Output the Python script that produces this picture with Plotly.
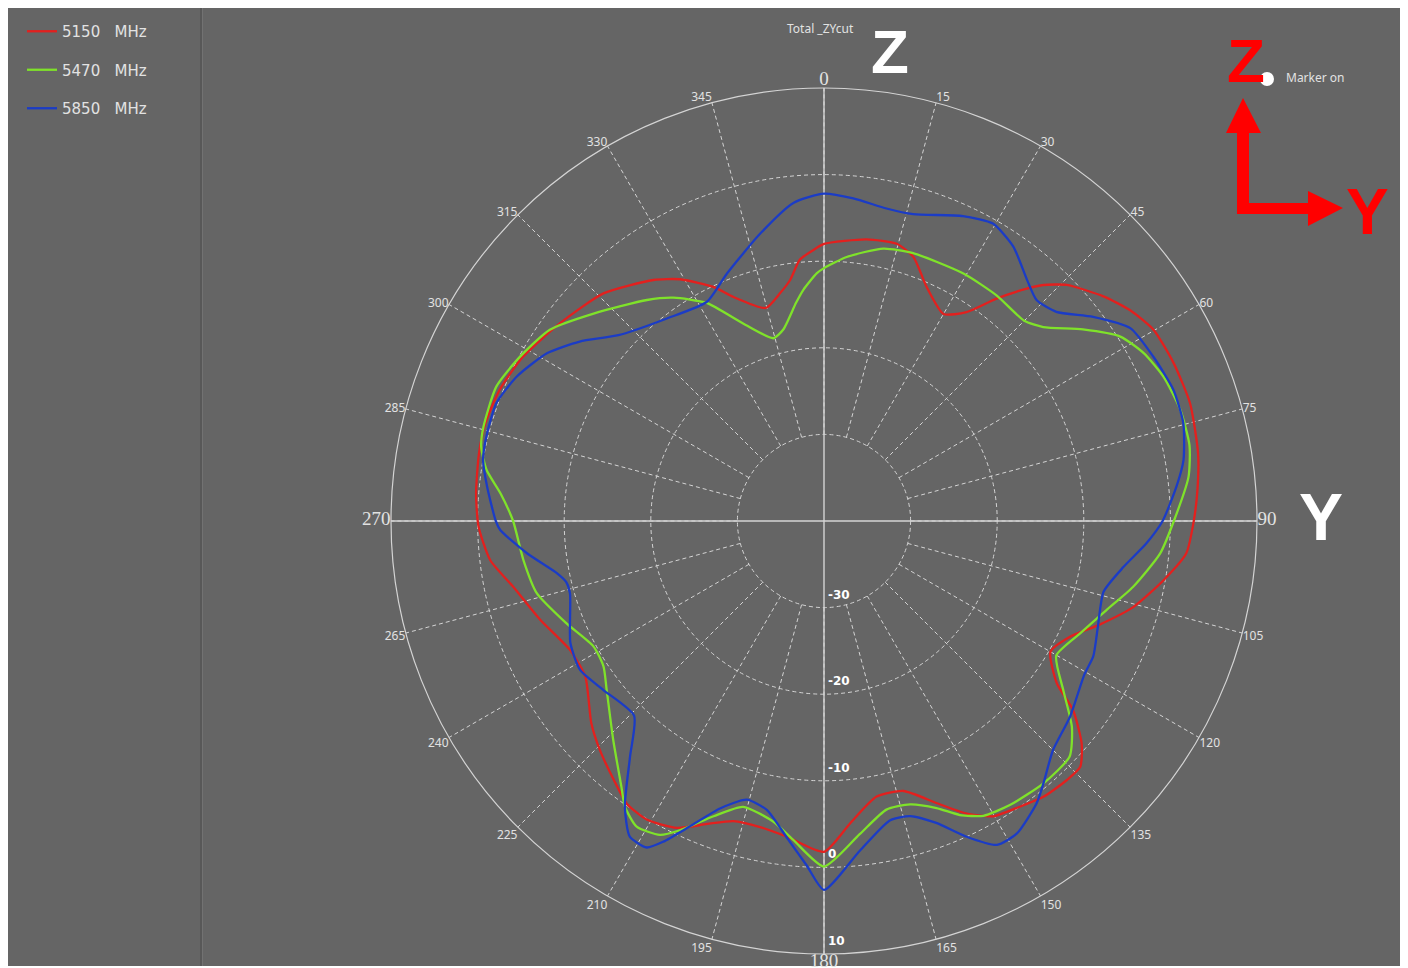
import plotly.graph_objects as go

# page is drawn with an 8 px body margin, so the figure is 1400x960 and offset by 8 px
W, H = 1400, 960
OX, OY = 8, 8

# ---------------- data ----------------
series_names = ["5150\u00a0\u00a0\u00a0MHz", "5470\u00a0\u00a0\u00a0MHz", "5850\u00a0\u00a0\u00a0MHz"]
series_colors = ["#e3201e", "#7fe22a", "#1b3cc6"]

theta_5150 = [0, 8.6, 14.7, 18.7, 23.7, 30.0, 34.3, 37.8, 41.1, 42.9, 45.8, 51.2, 55.4, 59.9,
              65.7, 72.2, 79.7, 85, 90, 95.1, 99.9, 105.5, 110.6, 115.2, 120.0, 124.9, 127.2,
              130.8, 133.8, 136.9, 141.5, 146.2, 150.2, 154.0, 158.2, 163.6, 169.2, 175.0, 180,
              186.7, 191.8, 196.8, 201.1, 205.6, 210.7, 214.9, 219.1, 224.4, 229.0, 236.9, 243.1,
              250.8, 258.1, 263.3, 269.1, 274.5, 281.1, 286.1, 292.0, 298.6, 306.8, 315.9, 324.7,
              329.2, 334.7, 338.0, 344.7, 349.1, 352.0, 354.7, 357.7]
r_5150 = [-8.0, -7.1, -6.9, -7.8, -10.5, -12.4, -10.8, -7.5, -4.4, -2.8, -0.9, 1.4, 2.9, 4.0,
          4.3, 4.4, 3.9, 3.3, 2.7, 2.0, -0.2, -2.9, -6.0, -8.6, -9.8, -7.2, -3.9,
          -0.7, 1.0, 1.0, 0.7, -0.1, -0.7, -2.4, -4.9, -7.5, -7.6, -5.0, -1.8,
          -3.3, -3.9, -3.8, -2.5, -0.7, 0.1, -0.2, -1.5, -3.0, -4.4, -7.1, -7.1,
          -5.3, -3.3, -1.2, -0.1, 0.3, 0.6, 0.7, 0.4, -0.4, -1.9, -3.4, -5.9,
          -7.5, -10.1, -12.1, -14.5, -13.2, -11.9, -9.7, -8.7]

theta_5470 = [0, 4.9, 12.3, 18.4, 29.4, 37.4, 45.0, 48.5, 53.5, 58.1, 62.3, 67.0, 72.7, 78.3,
              83.1, 90, 95.5, 102.0, 107.5, 113.7, 120.1, 125.2, 129.7, 133.8, 140.1, 146.8,
              151.6, 155.2, 158.6, 163.1, 167.8, 173.5, 180, 185.5, 189.6, 195.8, 200.5, 205.0,
              207.6, 211.5, 214.9, 217.3, 223.9, 232.1, 236.6, 241.4, 248.3, 255.9, 262.6, 270,
              274.9, 278.6, 282.2, 285.5, 292.3, 298.4, 304.9, 312.0, 321.3, 326.0, 331.7, 337.8,
              344.5, 348.0, 352.7, 354.9, 358.3]
r_5470 = [-10.8, -9.4, -7.8, -7.4, -7.2, -7.2, -7.3, -6.2, -2.8, 0.3, 1.7, 2.6, 3.1, 3.1,
          2.4, 0.4, -1.0, -3.5, -5.8, -7.7, -9.0, -6.2, -2.8, -0.7, -0.5, -0.8,
          -1.3, -2.6, -4.4, -5.8, -5.9, -3.6, -0.1, -3.0, -4.8, -5.7, -3.6, -0.6,
          0.9, 1.4, 0.2, -1.4, -4.9, -8.2, -9.5, -9.7, -8.0, -5.8, -5.0, -4.1,
          -2.5, -0.6, 0.5, 0.8, 0.9, -0.1, -1.4, -4.2, -7.3, -8.9, -11.4, -15.4,
          -18.1, -17.4, -14.6, -13.2, -11.4]

theta_5850 = [0, 5.2, 11.3, 16.2, 24.5, 29.6, 34.6, 40.1, 43.9, 48.0, 52.8, 57.8, 63.5, 69.4,
              74.8, 80.4, 84.4, 90, 94.0, 98.7, 104.2, 111.1, 116.7, 120.5, 128.5, 135.0, 140.1,
              143.0, 148.3, 151.9, 155.7, 159.6, 163.7, 167.6, 173.8, 180, 182.9, 186.7, 191.2,
              195.5, 199.9, 203.7, 206.6, 208.5, 211.6, 214.9, 219.5, 224.3, 232.6, 238.6, 244.3,
              254.1, 256.7, 258.9, 263.8, 268.4, 270, 275.8, 280.2, 284.6, 289.8, 295.2, 301.2,
              306.3, 312.1, 322.2, 331.9, 338.6, 347.5, 354.5]
r_5850 = [-2.2, -2.6, -3.2, -3.1, -1.3, -0.5, -1.5, -3.6, -4.6, -3.9, -1.0, 1.8, 2.5, 3.1,
          3.0, 2.1, 0.9, -0.9, -2.7, -5.0, -6.7, -6.1, -5.2, -5.1, -3.7, -2.6, -0.5,
          0.8, 2.4, 2.4, 0.0, -2.8, -4.5, -4.6, -1.7, 2.6, -0.2, -3.2, -6.0,
          -6.6, -4.7, -1.5, 1.4, 2.9, 2.8, 0.2, -4.8, -8.6, -7.9, -7.0, -7.5,
          -9.5, -9.4, -8.6, -5.5, -2.6, -2.1, -0.9, 0.0, 0.2, 0.2, -0.8, -2.6,
          -5.0, -8.0, -10.4, -11.3, -9.3, -6.0, -3.1]

series_theta = [theta_5150, theta_5470, theta_5850]
series_r = [r_5150, r_5470, r_5850]
for t, r in zip(series_theta, series_r):
    assert len(t) == len(r), (len(t), len(r))

angle_tickvals = list(range(0, 360, 15))
angle_ticklabels = ["0", "15", "30", "45", "60", "75", "90", "105", "120", "135", "150", "165",
                    "180", "195", "210", "225", "240", "265", "270", "285", "300", "315", "330", "345"]
big_angle_labels = {"0", "90", "180", "270"}
radial_tickvals = [-30, -20, -10, 0, 10]
radial_ticklabels = ["-30", "-20", "-10", "0", "10"]
radial_range = [-30, 10]

title_text = "Total _ZYcut"
marker_text = "Marker on"

# ---------------- styling helpers ----------------
BG = "#656565"
GRID = "#d4d4d4"
TXT = "#e2e2e2"


def px(x):
    """screen pixel x -> paper fraction"""
    return (x - OX) / W


def py(y):
    """screen pixel y -> paper fraction"""
    return 1 - (y - OY) / H


fig = go.Figure()

for name, color, t, r in zip(series_names, series_colors, series_theta, series_r):
    fig.add_trace(go.Scatterpolar(
        theta=t + [t[0]], r=r + [r[0]], mode="lines", name=name, legendgroup=name,
        line=dict(color=color, width=2.3, shape="spline", smoothing=0.6),
        hoverinfo="skip",
    ))

ticktext = []
for lab in angle_ticklabels:
    if lab in big_angle_labels:
        ticktext.append("<span style='font-size:19px;font-family:\"Liberation Serif\"'>%s</span>" % lab)
    else:
        ticktext.append(lab)

# polar centre (824, 521) on screen, radius 433 px, hole radius 86.6 px
cx, cy, R = 824, 521, 433
HOLE = 0.2
RH = HOLE * R


def radial_px(v):
    """pixel distance from the centre of radial value v (same linear map as the polar axis)"""
    return RH + (v - radial_range[0]) * (R - RH) / (radial_range[1] - radial_range[0])


shapes = [
    # grey panel
    dict(type="rect", xref="paper", yref="paper", x0=px(4), x1=px(1404), y0=py(966), y1=py(7),
         fillcolor=BG, line=dict(width=0), layer="below"),
    # left panel separator
    dict(type="line", xref="paper", yref="paper", x0=px(201), x1=px(201), y0=py(966), y1=py(7),
         line=dict(color="#555555", width=1.5), layer="below"),
    dict(type="line", xref="paper", yref="paper", x0=px(202.5), x1=px(202.5), y0=py(966), y1=py(7),
         line=dict(color="#727272", width=1), layer="below"),
    # solid cross lines through the centre
    dict(type="line", xref="paper", yref="paper", x0=px(cx - R), x1=px(cx + R), y0=py(cy), y1=py(cy),
         line=dict(color=GRID, width=1.4), layer="below"),
    dict(type="line", xref="paper", yref="paper", x0=px(cx), x1=px(cx), y0=py(cy - R), y1=py(cy + R),
         line=dict(color=GRID, width=1.4), layer="below"),
    # outer solid circle
    dict(type="circle", xref="paper", yref="paper", x0=px(cx - R), x1=px(cx + R),
         y0=py(cy + R), y1=py(cy - R), line=dict(color=GRID, width=1.2), layer="below"),
    # inner dashed circle (-30)
    dict(type="circle", xref="paper", yref="paper", x0=px(cx - RH), x1=px(cx + RH),
         y0=py(cy + RH), y1=py(cy - RH), line=dict(color=GRID, width=1, dash="4px,3px"), layer="below"),
    # red axis arrows (one L-shaped polygon with two heads)
    dict(type="path", xref="paper", yref="paper", fillcolor="#ff0000", line=dict(width=0),
         path="M " + " L ".join("%f,%f" % (px(x), py(y)) for x, y in [
             (1237, 214), (1308, 214), (1308, 226), (1343, 208), (1308, 191), (1308, 203),
             (1249, 203), (1249, 133), (1261, 133), (1243, 98), (1226, 133), (1237, 133)]) + " Z"),
    # white marker dot
    dict(type="circle", xref="paper", yref="paper", x0=px(1260), x1=px(1274), y0=py(86), y1=py(72),
         fillcolor="white", line=dict(width=0)),
]

annotations = [
    dict(text=title_text, x=px(820), y=py(28), xref="paper", yref="paper", showarrow=False,
         font=dict(family="Noto Sans", size=12, color=TXT), xanchor="center", yanchor="middle"),
    dict(text="Z", x=px(890), y=py(51), xref="paper", yref="paper", showarrow=False,
         font=dict(family="Liberation Sans", size=62, color="white", weight="bold"),
         xanchor="center", yanchor="middle"),
    dict(text="Y", x=px(1321), y=py(517), xref="paper", yref="paper", showarrow=False,
         font=dict(family="Liberation Sans", size=66, color="white", weight="bold"),
         xanchor="center", yanchor="middle"),
    dict(text="Z", x=px(1246), y=py(61), xref="paper", yref="paper", showarrow=False,
         font=dict(family="Liberation Sans", size=62, color="#ff0000", weight="bold"),
         xanchor="center", yanchor="middle"),
    dict(text="Y", x=px(1367), y=py(212), xref="paper", yref="paper", showarrow=False,
         font=dict(family="Liberation Sans", size=64, color="#ff0000", weight="bold"),
         xanchor="center", yanchor="middle"),
    dict(text=marker_text, x=px(1284), y=py(77), xref="paper", yref="paper", showarrow=False,
         font=dict(family="Noto Sans", size=12, color=TXT), xanchor="left", yanchor="middle"),
]

# radial tick labels: sit just inside each ring, to the right of the 180-degree line
for v, lab in zip(radial_tickvals, radial_ticklabels):
    annotations.append(dict(
        text=lab, x=px(cx + 2), y=py(cy + radial_px(v) - 13), xref="paper", yref="paper",
        showarrow=False, xanchor="left", yanchor="middle",
        font=dict(family="DejaVu Sans", size=12, color="white", weight="bold")))

fig.update_layout(
    width=W, height=H, autosize=False,
    margin=dict(l=0, r=0, t=0, b=0),
    paper_bgcolor="white",
    plot_bgcolor=BG,
    showlegend=True,
    legend=dict(x=px(22), y=py(15), xanchor="left", yanchor="top", bgcolor="rgba(0,0,0,0)",
                font=dict(family="DejaVu Sans", size=15, color=TXT), tracegroupgap=16,
                itemwidth=30),
    polar=dict(
        domain=dict(x=[px(cx - R), px(cx + R)], y=[py(cy + R), py(cy - R)]),
        bgcolor="rgba(0,0,0,0)",
        hole=HOLE,
        angularaxis=dict(
            rotation=90, direction="clockwise", tickmode="array",
            tickvals=angle_tickvals, ticktext=ticktext,
            showgrid=True, gridcolor=GRID, gridwidth=1, griddash="4px,3px",
            showline=False, ticks="",
            tickfont=dict(family="Noto Sans", size=12, color=TXT),
        ),
        radialaxis=dict(
            range=radial_range, tickmode="array", tickvals=radial_tickvals,
            showgrid=True, gridcolor=GRID, gridwidth=1, griddash="4px,3px",
            showline=False, ticks="", angle=270, showticklabels=False,
        ),
    ),
    shapes=shapes,
    annotations=annotations,
)

fig.write_html("out.html")
